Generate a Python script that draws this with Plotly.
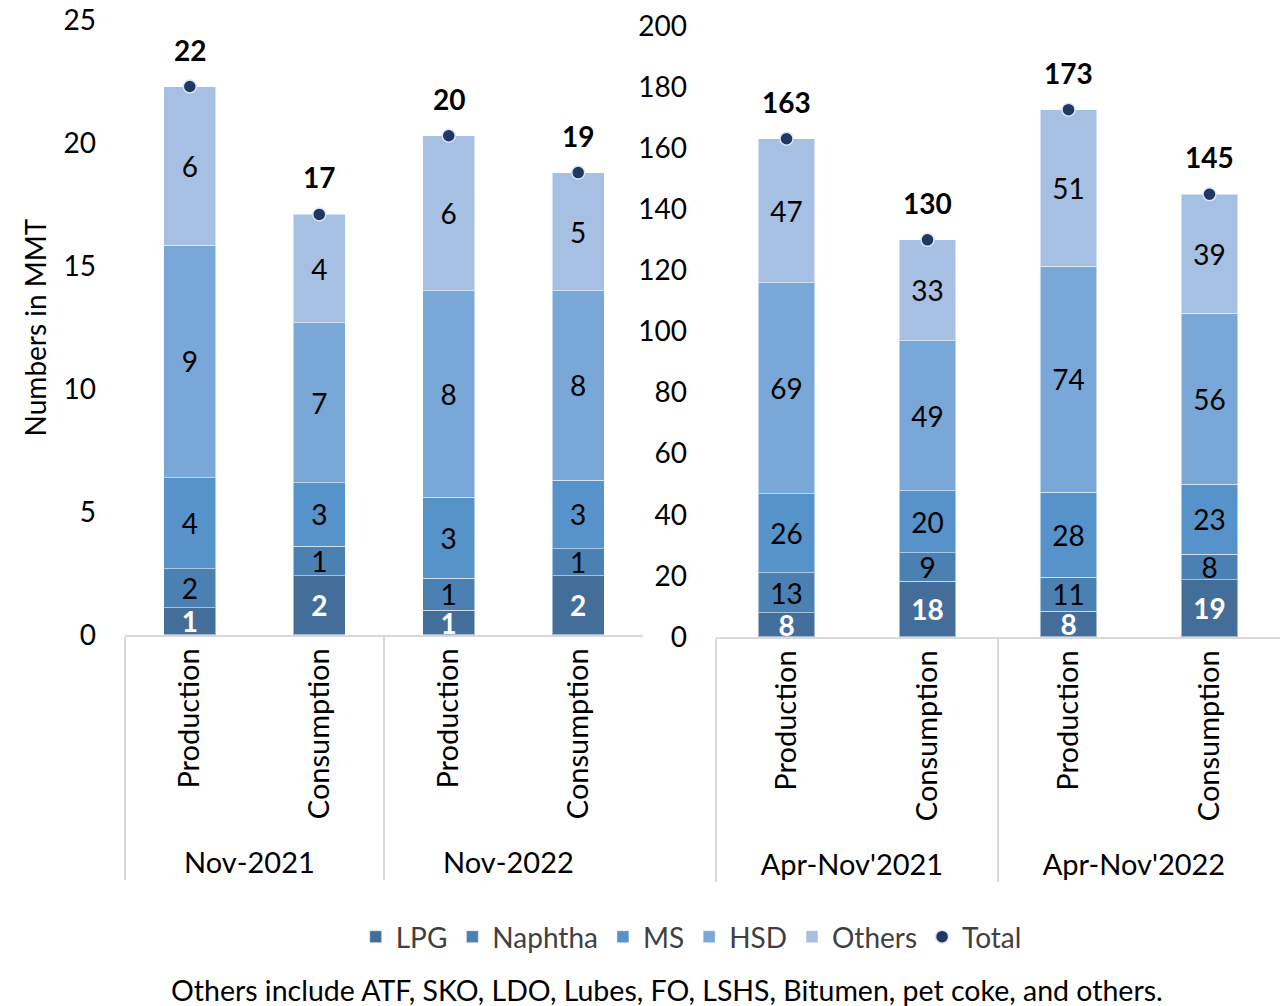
import plotly.graph_objects as go

# ---- data ----
groups_left = ["Nov-2021", "Nov-2021", "Nov-2022", "Nov-2022"]
groups_right = ["Apr-Nov'2021", "Apr-Nov'2021", "Apr-Nov'2022", "Apr-Nov'2022"]
kinds = ["Production", "Consumption", "Production", "Consumption"]

lpg_left = [1.1, 2.4, 1.0, 2.4]
naphtha_left = [1.6, 1.2, 1.3, 1.1]
ms_left = [3.7, 2.6, 3.3, 2.8]
hsd_left = [9.45, 6.5, 8.4, 7.7]
others_left = [6.45, 4.4, 6.3, 4.8]
total_left = [22.3, 17.1, 20.3, 18.8]

lpg_right = [7.9, 18.2, 8.4, 18.7]
naphtha_right = [13.1, 9.4, 11.1, 8.4]
ms_right = [25.9, 20.3, 27.9, 22.9]
hsd_right = [69.1, 49.1, 73.9, 56.0]
others_right = [47.1, 33.0, 51.3, 38.9]
total_right = [163.1, 130.0, 172.6, 144.9]

series_names = ["LPG", "Naphtha", "MS", "HSD", "Others"]
bar_colors = ["#436E9A", "#4B80B3", "#5593CA", "#79A8D8", "#A5C0E3"]
text_colors = ["white", "black", "black", "black", "black"]
total_color = "#1F3864"

FONT = "Lato"
FS = 28

fig = go.Figure()

left_series = [lpg_left, naphtha_left, ms_left, hsd_left, others_left]
right_series = [lpg_right, naphtha_right, ms_right, hsd_right, others_right]

for side, (groups, series, xa, ya) in enumerate([
        (groups_left, left_series, "x", "y"),
        (groups_right, right_series, "x2", "y2")]):
    for i, (name, vals) in enumerate(zip(series_names, series)):
        fig.add_trace(go.Bar(
            x=[groups, kinds], y=vals, name=name,
            marker=dict(color=bar_colors[i], line=dict(color="rgba(255,255,255,0.5)", width=1)),
            text=vals, texttemplate="%{y:.0f}", textposition="inside",
            insidetextanchor="middle", textangle=0, constraintext="none",
            textfont=dict(family=FONT, size=FS, color=text_colors[i],
                          weight="bold" if i == 0 else "normal"),
            width=0.4, showlegend=(side == 0), legendgroup=name,
            xaxis=xa, yaxis=ya, hoverinfo="skip"))

for side, (groups, totals, xa, ya) in enumerate([
        (groups_left, total_left, "x", "y"),
        (groups_right, total_right, "x2", "y2")]):
    fig.add_trace(go.Scatter(
        x=[groups, kinds], y=totals, name="Total", mode="markers",
        marker=dict(color=total_color, size=13, line=dict(color="#DCE6F2", width=1.5)),
        showlegend=(side == 0), legendgroup="Total",
        xaxis=xa, yaxis=ya, hoverinfo="skip"))
    for k, t in enumerate(totals):
        fig.add_annotation(x=k, y=t, xref=xa, yref=ya, text=f"<b>{t:.0f}</b>",
                           showarrow=False, yshift=37,
                           font=dict(family=FONT, size=FS, color="black"))

axis_font = dict(family=FONT, size=FS, color="black")
xtick_font = dict(family=FONT, size=29, color="black")
xcommon = dict(type="multicategory", showline=True, linecolor="#D9D9D9", linewidth=1.5,
               showdividers=True, dividercolor="#D9D9D9", dividerwidth=1.5,
               tickangle=-90, tickfont=xtick_font, ticks="", showgrid=False,
               automargin=False)
fig.update_layout(
    width=1280, height=1006,
    margin=dict(l=0, r=0, t=0, b=0, autoexpand=False),
    paper_bgcolor="white", plot_bgcolor="white",
    barmode="stack", bargap=0.6,
    font=dict(family=FONT, size=FS, color="black"),
    xaxis=dict(domain=[0.0977, 0.5023], anchor="y", **xcommon),
    xaxis2=dict(domain=[0.5594, 1.0], anchor="y2", **xcommon),
    yaxis=dict(domain=[0.3688, 0.980], range=[0, 25], dtick=5, showgrid=False,
               zeroline=False, showline=False, tickfont=axis_font, ticks="",
               ticklabelstandoff=28, automargin=False,
               title=dict(text="Numbers in MMT", standoff=8,
                          font=dict(family=FONT, size=FS, color="black"))),
    yaxis2=dict(domain=[0.3668, 0.9742], range=[0, 200], dtick=20, showgrid=False,
                zeroline=False, showline=False, tickfont=axis_font, ticks="",
                ticklabelstandoff=28, automargin=False, anchor="x2"),
    legend=dict(orientation="h", x=0.54, xanchor="center", y=0.0686, yanchor="middle",
                font=dict(family=FONT, size=FS, color="#404040"), itemclick=False),
)
fig.add_annotation(x=0.521, y=0.016, xref="paper", yref="paper", xanchor="center", yanchor="middle",
                   text="Others include ATF, SKO, LDO, Lubes, FO, LSHS, Bitumen, pet coke, and others.",
                   showarrow=False, font=dict(family=FONT, size=28.5, color="black"))

fig.write_html("out.html")
